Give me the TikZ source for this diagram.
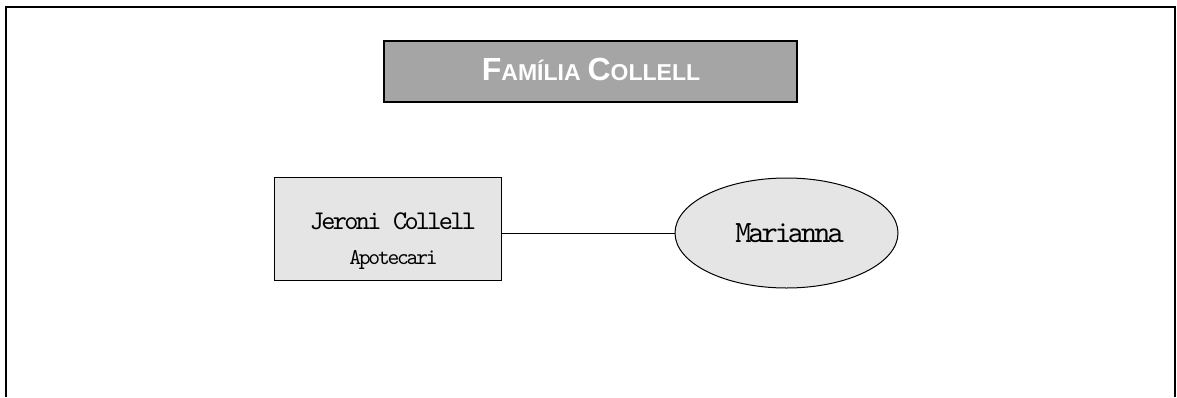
\documentclass[tikz,border=0pt]{standalone}
\usepackage{fontspec}
\usepackage{xcolor}
\usepackage{tikz}
\usetikzlibrary{positioning, shapes.geometric}
\setmainfont{Liberation Sans}
\newfontfamily\typefont[LetterSpace=-10]{lmmono10-regular.otf}
\definecolor{titlegray}{RGB}{165,165,165}
\definecolor{boxgray}{RGB}{229,229,229}
\newcommand{\capword}[2]{{\fontsize{32}{36}\selectfont #1}{\fontsize{23}{36}\selectfont #2}}

\begin{document}
\begin{tikzpicture}[x=1pt, y=-1pt,
    titlebox/.style={draw=black, line width=2.5pt, fill=titlegray, minimum width=413pt, minimum height=61pt, inner sep=0pt},
    personbox/.style={draw=black, line width=1pt, fill=boxgray, minimum width=227pt, minimum height=103pt, inner sep=0pt},
    spouse/.style={ellipse, draw=black, line width=1pt, fill=boxgray, minimum width=223pt, minimum height=110pt, inner sep=0pt},
    typetext/.style={anchor=base, inner sep=0pt, font=\typefont}]
\useasboundingbox (0,0) rectangle (1177,397);
% frame
\draw[line width=1.5pt] (6,397) -- (6,7) -- (1175,7) -- (1175,397);
% title
\node[titlebox] (title) at (590.5,71.5) {};
\node[anchor=base, inner sep=0pt, text=white, font=\bfseries] (titletext) at (591,80) {\capword{F}{AMÍLIA}\hspace{7pt}\capword{C}{OLLELL}};
% people
\node[personbox] (jeroni) at (387.5,228.5) {};
\node[typetext] (jeroniname) at (393,229) {\fontsize{27}{30}\selectfont Jeroni Collell};
\node[typetext] (jeronijob) at (393.5,264) {\fontsize{22.5}{26}\selectfont Apotecari};
\node[spouse] (marianna) at (786.5,233) {};
\node[typetext] (mariannaname) at (789.5,242) {\fontsize{31}{34}\selectfont Marianna};
\draw[line width=1pt] (jeroni.east |- marianna.west) -- (marianna.west);
\end{tikzpicture}
\end{document}
